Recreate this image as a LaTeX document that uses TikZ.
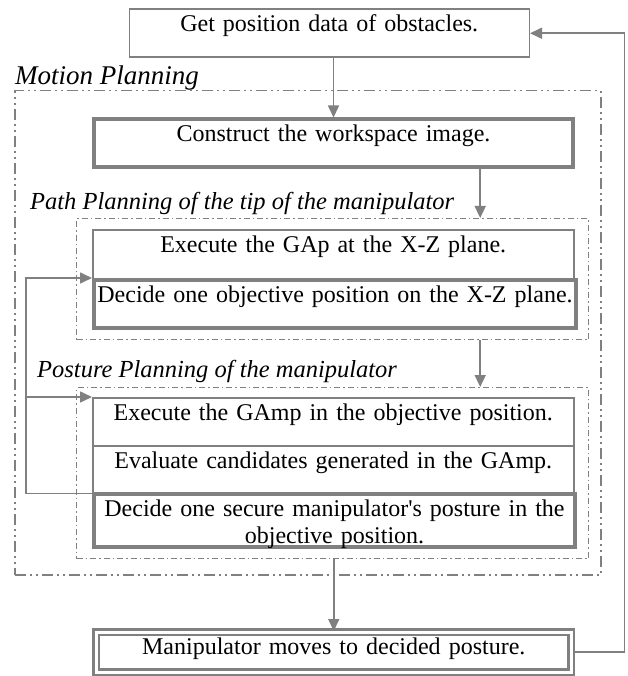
\documentclass[tikz,border=0pt]{standalone}
\usepackage{fontspec}
\setmainfont{Liberation Serif}
\usetikzlibrary{arrows.meta}
\definecolor{linegray}{RGB}{128,128,128}
\tikzset{
  box/.style={draw=linegray,line width=1.5pt,inner sep=0pt,anchor=north west,align=center,text height=22.5pt},
  thickbox/.style={box,line width=4pt},
  dblbox/.style={box,line width=2.5pt,double=white,double distance=3pt},
  outerframe/.style={draw=linegray,line width=1.5pt,inner sep=0pt,anchor=north west,
    dash pattern=on 11pt off 4pt on 2pt off 4pt on 2pt off 4pt},
  innerframe/.style={draw=linegray,line width=1.2pt,inner sep=0pt,anchor=north west,
    dash pattern=on 6pt off 3pt on 1.5pt off 3pt},
  tag/.style={anchor=base west,inner sep=0pt,font=\fontsize{24.5}{27}\selectfont\itshape},
  arr/.style={draw=linegray,line width=1.6pt,-{Triangle[length=12pt,width=11pt]}}
}
\begin{document}
\begin{tikzpicture}[x=1pt,y=-1pt,font=\fontsize{24}{27}\selectfont]
\useasboundingbox (0,0) rectangle (627,676);

\node[outerframe,minimum width=586pt,minimum height=484pt] (motion) at (14,90) {};
\node[innerframe,minimum width=512pt,minimum height=121pt] (pathframe) at (76,218) {};
\node[innerframe,minimum width=512pt,minimum height=171pt] (postureframe) at (76,387) {};

\node[tag,font=\fontsize{27}{30}\selectfont\itshape] (motionlabel) at (15,85) {Motion Planning};
\node[tag] (pathlabel) at (30,210) {Path Planning of the tip of the manipulator};
\node[tag] (posturelabel) at (37,377) {Posture Planning of the manipulator};

\node[box,text width=400pt,text depth=25.5pt] (getdata) at (128.5,8.5) {Get position data of obstacles.};
\node[thickbox,text width=479pt,text depth=25pt] (construct) at (92,117.5) {Construct the workspace image.};
\node[box,text width=481pt,text depth=26.5pt] (gap) at (92,229) {Execute the GAp at the X-Z plane.};
\node[thickbox,text width=482pt,text depth=25.5pt] (decidexz) at (92,278) {\mbox{Decide one objective position on the X-Z plane.}};
\node[box,text width=481pt,text depth=25.5pt] (gamp) at (92,397) {Execute the GAmp in the objective position.};
\node[box,text width=481pt,text depth=24.5pt] (evaluate) at (92,445) {Evaluate candidates generated in the GAmp.};
\node[thickbox,text width=481pt,text depth=30.5pt] (decidepos) at (92,492) {Decide one secure manipulator\textquotesingle s posture in the\\objective position.};
\node[dblbox,text width=475pt,text depth=17.5pt] (moves) at (95,631) {Manipulator moves to decided posture.};

\draw[arr] (getdata.south -| construct.north) -- (construct.north);
\draw[arr] ([xshift=-109pt]pathframe.north east |- construct.south) -- ([xshift=-109pt]pathframe.north east);
\draw[arr] ([xshift=-109pt]pathframe.south east) -- ([xshift=-109pt]postureframe.north east);
\draw[arr] (postureframe.south -| moves.north) -- (moves.north);
\draw[arr] (moves.east) -- ++(52,0) |- (getdata.east);
\draw[arr] (evaluate.south west) -- ++(-66,0) coordinate (turn) |- (decidexz.north west);
\draw[arr] (turn |- gamp.north west) -- (gamp.north west);
\end{tikzpicture}
\end{document}
